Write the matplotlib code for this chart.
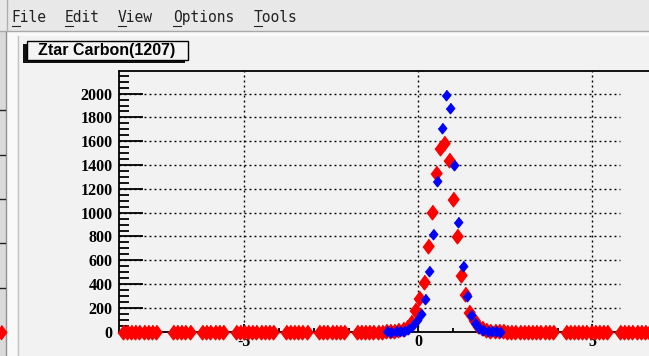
import numpy as np
import matplotlib.pyplot as plt
from matplotlib.patches import Rectangle

plt.rcParams["axes.unicode_minus"] = False

W, H = 649, 356  # figure size in pixels

# binning (about 0.12 per bin)
bin_width = 0.12
red_first_center = -8.49
red_last_center = 6.75

# red histogram around the peak, bin centres from -0.93 up
red_peak_start = -0.93
red_peak = [3, 6, 10, 16, 25, 40, 80, 180, 280, 420, 720, 1004, 1330, 1540,
            1583, 1442, 1113, 801, 473, 315, 168, 95, 50, 28, 15, 8, 5, 3, 2]
# flat tails: a few counts per bin, with some empty bins (centre, n empty)
red_tail_count = 1
red_tail_gaps = [(-7.28, 3), (-6.42, 2), (-5.45, 2), (-4.02, 2), (-2.98, 2),
                 (-1.92, 2), (4.11, 2), (5.64, 2)]

# blue histogram, bin centres from -0.89 up
blue_start = -0.89
blue_counts = [2, 1, 2, 3, 8, 20, 45, 95, 150, 272, 512, 823, 1270, 1708,
               1990, 1877, 1400, 920, 548, 304, 140, 70, 35, 18, 8, 4, 2, 1]

title = "Ztar Carbon(1207)"
menu_items = ["File", "Edit", "View", "Options", "Tools"]
menu_x = [11.7, 65, 118, 173, 254]

y_ticks = list(range(0, 2001, 200))
x_ticks = [-5, 0, 5]

# ---- build the histograms
red_x = np.round(np.arange(red_first_center, red_last_center, bin_width), 3)
red_y = np.full(len(red_x), float(red_tail_count))
i0 = int(round((red_peak_start - red_first_center) / bin_width))
red_y[i0:i0 + len(red_peak)] = red_peak
for c, n in red_tail_gaps:
    idx = np.argsort(np.abs(red_x - c))[:n]
    red_y[idx] = np.nan

blue_x = blue_start + bin_width * np.arange(len(blue_counts))
blue_y = np.array(blue_counts, dtype=float)

canvas_bg = "#f2f2f2"
fig = plt.figure(figsize=(W / 100, H / 100), dpi=100, facecolor=canvas_bg)

# ---- window chrome (pixel coordinates)
chrome = fig.add_axes([0, 0, 1, 1], zorder=0)
chrome.set_xlim(0, W)
chrome.set_ylim(H, 0)
chrome.axis("off")

chrome.add_patch(Rectangle((0, 0), W, 31, fc="#e8e8e8", ec="none"))
chrome.plot([0, W], [31, 31], color="#a8a8a8", lw=1)
chrome.add_patch(Rectangle((0, 32), W, 4, fc="#fafafa", ec="none"))
chrome.plot([7, 7], [0, 31], color="#b0b0b0", lw=1)
chrome.add_patch(Rectangle((0, 32), 6, H, fc="#dadada", ec="none"))
chrome.plot([5.5, 5.5], [32, H], color="#909090", lw=1)
chrome.add_patch(Rectangle((7, 32), 10, H, fc="#f9f9f9", ec="none"))
chrome.plot([17.5, 17.5], [36, H], color="#c4c4c4", lw=1)
for yy in [110, 155, 199, 243, 288]:
    chrome.plot([0, 5], [yy, yy], color="#222222", lw=1)
chrome.plot([0, 5], [331.5, 331.5], color="black", lw=1.5)
chrome.plot([1], [331.5], ls="none", marker=[(0, 1), (0.75, 0), (0, -1), (-0.75, 0)],
            ms=10, color="red")

for word, x in zip(menu_items, menu_x):
    chrome.text(x, 22, word, fontsize=10.5, family="DejaVu Sans Mono",
                color="#222222", ha="left", va="baseline")
    chrome.plot([x, x + 8], [25.5, 25.5], color="#222222", lw=0.8)

# title box with shadow
chrome.add_patch(Rectangle((22.7, 44), 162, 18.7, fc="#111111", ec="none"))
chrome.add_patch(Rectangle((26.7, 40.7), 161.3, 19.3, fc="#f4f4f4",
                           ec="black", lw=1))
chrome.text(106.5, 51, title, fontsize=11.5, fontweight="bold",
            family="Liberation Sans", ha="center", va="center")

# ---- histogram pad
left, right = 119.3, 717.3
top, bottom = 71, 331.7
ax = fig.add_axes([left / W, (H - bottom) / H, (right - left) / W, (bottom - top) / H],
                  zorder=2)
ax.set_facecolor("none")
ax.set_xlim(-8.59, 8.59)
ax.set_ylim(0, 2190)

dots = (0, (1.4, 2.2))
ax.hlines(y_ticks[1:], -8.59, 5.8, colors="black", linestyles=dots, lw=1, zorder=1)
ax.vlines(x_ticks, 0, 2190, colors="black", linestyles=dots, lw=1, zorder=1)

diamond_red = [(0, 1), (0.75, 0), (0, -1), (-0.75, 0)]
diamond_blue = [(0, 1), (0.8, 0), (0, -1), (-0.8, 0)]
ax.plot(red_x, red_y, ls="none", marker=diamond_red, ms=10.5, color="red",
        clip_on=False, zorder=3)
ax.plot(blue_x, blue_y, ls="none", marker=diamond_blue, ms=7.5, color="blue",
        clip_on=False, zorder=4)

for s in ["left", "top", "bottom"]:
    ax.spines[s].set_linewidth(1.3)
    ax.spines[s].set_zorder(2.5)
ax.spines["right"].set_visible(False)

ax.set_yticks(y_ticks)
ax.set_yticks(np.arange(0, 2190, 50), minor=True)
ax.set_xticks(x_ticks)
ax.set_xticks(np.arange(-8, 9, 1), minor=True)
ax.tick_params(axis="y", which="major", direction="in", length=17, width=1.3, pad=5)
ax.tick_params(axis="y", which="minor", direction="in", length=7.5, width=1.3)
ax.tick_params(axis="x", which="major", direction="in", length=6, width=1.3, pad=2)
ax.tick_params(axis="x", which="minor", direction="in", length=3, width=1.3)
ax.set_yticklabels([str(v) for v in y_ticks])
ax.set_xticklabels([str(v) for v in x_ticks])
for lab in ax.get_yticklabels() + ax.get_xticklabels():
    lab.set_fontfamily("Liberation Serif")
    lab.set_fontweight("bold")
    lab.set_fontsize(11.5)

fig.savefig("out.png", dpi=100, facecolor=canvas_bg)
